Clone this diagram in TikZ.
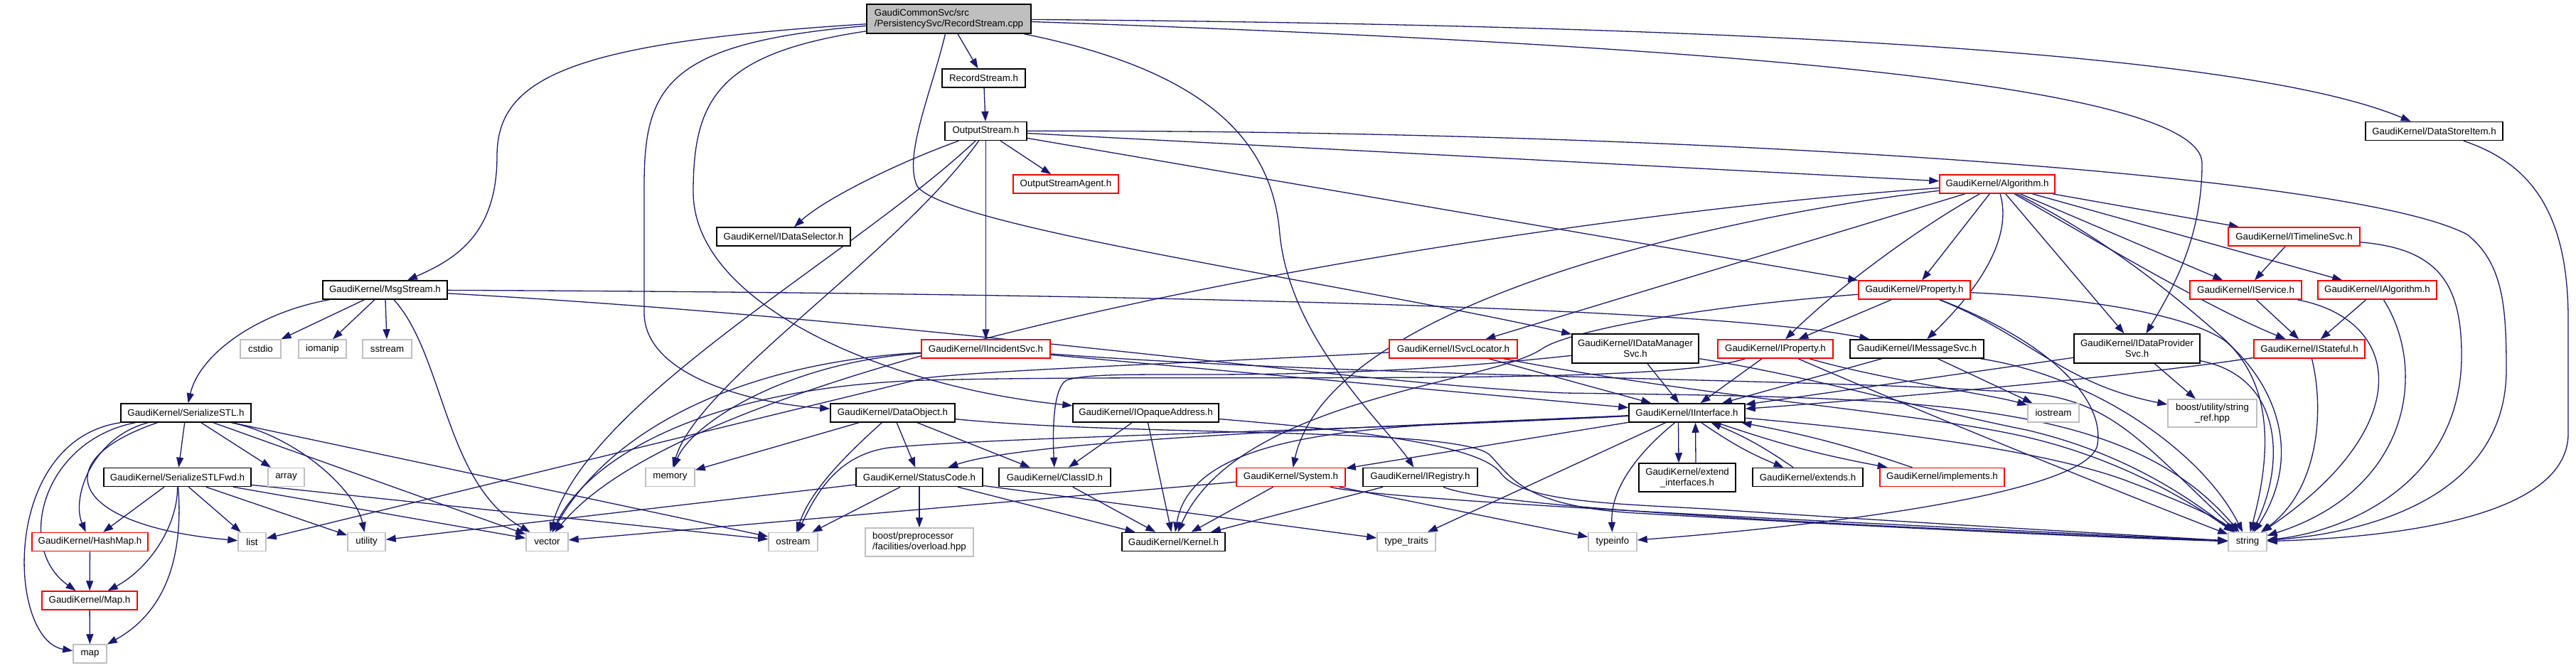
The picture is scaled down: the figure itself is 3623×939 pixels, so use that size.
\documentclass[tikz,border=0pt]{standalone}
\usepackage{fontspec}
\setmainfont{Liberation Sans}
\usetikzlibrary{arrows.meta}
\definecolor{edgeblue}{RGB}{25,25,112}
\definecolor{lgray}{RGB}{191,191,191}
\pgfdeclarelayer{bg}
\pgfsetlayers{bg,main}
\tikzset{
  nbox/.style={rectangle, inner sep=0pt, line width=0.75pt, fill=white, text=black,
    font=\fontsize{6.65}{7.5}\selectfont, align=center},
  blkbox/.style={nbox, draw=black},
  redbox/.style={nbox, draw=red},
  grybox/.style={nbox, draw=lgray},
  rootbox/.style={nbox, draw=black, fill=lgray},
  conn/.style={draw=edgeblue, line width=0.65pt, -{Triangle[length=7pt,width=5pt]}},
}
\newcommand{\mknode}[7]{\node[#6, minimum width={#4*0.5pt}, minimum height={#5*0.5pt}] (#1) at (#2,#3) {#7};}
\begin{document}
\begin{tikzpicture}[x=0.5pt,y=-0.5pt]
\begin{pgfonlayer}{bg}
\fill[white] (0,0) rectangle (3623,939);
\end{pgfonlayer}
\useasboundingbox (0,0) rectangle (3623,939);
% nodes
\mknode{root}{1334.5}{26.5}{231}{41}{rootbox,align=left}{GaudiCommonSvc/src\\/PersistencySvc/RecordStream.cpp}
\mknode{RecordStream}{1383.5}{110}{117}{26}{blkbox}{RecordStream.h}
\mknode{OutputStream}{1386.5}{184.5}{115}{26}{blkbox}{OutputStream.h}
\mknode{DataStoreItem}{3423.5}{184.5}{193}{26}{blkbox}{GaudiKernel/DataStoreItem.h}
\mknode{OSAgent}{1499}{259}{148}{26}{redbox}{OutputStreamAgent.h}
\mknode{Algorithm}{2809}{259}{162}{26}{redbox}{GaudiKernel/Algorithm.h}
\mknode{IDataSelector}{1102}{333}{188}{26}{blkbox}{GaudiKernel/IDataSelector.h}
\mknode{ITimelineSvc}{3226.5}{333}{185}{26}{redbox}{GaudiKernel/ITimelineSvc.h}
\mknode{MsgStream}{541.5}{408}{175}{26}{blkbox}{GaudiKernel/MsgStream.h}
\mknode{Property}{2692.5}{408}{157}{26}{redbox}{GaudiKernel/Property.h}
\mknode{IService}{3158.5}{408}{157}{26}{redbox}{GaudiKernel/IService.h}
\mknode{IAlgorithm}{3343.5}{408}{167}{26}{redbox}{GaudiKernel/IAlgorithm.h}
\mknode{cstdio}{366.5}{491}{57}{26}{grybox}{cstdio}
\mknode{iomanip}{453.5}{491}{67}{26}{grybox}{iomanip}
\mknode{sstream}{544.5}{491}{69}{26}{grybox}{sstream}
\mknode{IIncidentSvc}{1386.5}{491}{181}{26}{redbox}{GaudiKernel/IIncidentSvc.h}
\mknode{ISvcLocator}{2044}{491}{180}{26}{redbox}{GaudiKernel/ISvcLocator.h}
\mknode{IDataManagerSvc}{2300}{490.5}{178}{41}{blkbox}{GaudiKernel/IDataManager\\Svc.h}
\mknode{IProperty}{2497}{491}{162}{26}{redbox}{GaudiKernel/IProperty.h}
\mknode{IMessageSvc}{2696}{491}{188}{26}{blkbox}{GaudiKernel/IMessageSvc.h}
\mknode{IDataProviderSvc}{3005.5}{490.5}{177}{41}{blkbox}{GaudiKernel/IDataProvider\\Svc.h}
\mknode{IStateful}{3248}{491}{156}{26}{redbox}{GaudiKernel/IStateful.h}
\mknode{SerializeSTL}{261.5}{581}{183}{26}{blkbox}{GaudiKernel/SerializeSTL.h}
\mknode{DataObject}{1255.5}{581}{175}{26}{blkbox}{GaudiKernel/DataObject.h}
\mknode{IOpaqueAddress}{1611.5}{581}{205}{26}{blkbox}{GaudiKernel/IOpaqueAddress.h}
\mknode{IInterface}{2372.5}{581}{163}{26}{blkbox}{GaudiKernel/IInterface.h}
\mknode{iostream}{2888}{581}{72}{26}{grybox}{iostream}
\mknode{stringref}{3111.5}{581.5}{125}{39}{grybox}{boost/utility/string\\\_ref.hpp}
\mknode{SerializeSTLFwd}{249.5}{671.5}{207}{26}{blkbox}{GaudiKernel/SerializeSTLFwd.h}
\mknode{array}{402.5}{671.5}{51}{26}{grybox}{array}
\mknode{memory}{942.5}{671.5}{69}{26}{grybox}{memory}
\mknode{StatusCode}{1293}{671.5}{178}{26}{blkbox}{GaudiKernel/StatusCode.h}
\mknode{ClassID}{1483.5}{671.5}{157}{26}{blkbox}{GaudiKernel/ClassID.h}
\mknode{System}{1815.5}{671.5}{153}{26}{redbox}{GaudiKernel/System.h}
\mknode{IRegistry}{1997.5}{671.5}{161}{26}{blkbox}{GaudiKernel/IRegistry.h}
\mknode{extint}{2373}{672}{136}{40}{blkbox}{GaudiKernel/extend\\\_interfaces.h}
\mknode{extends}{2542.5}{671.5}{155}{26}{blkbox}{GaudiKernel/extends.h}
\mknode{implements}{2731.5}{671.5}{175}{26}{redbox}{GaudiKernel/implements.h}
\mknode{HashMap}{126.5}{762.5}{163}{26}{redbox}{GaudiKernel/HashMap.h}
\mknode{list}{354.5}{762.5}{39}{26}{grybox}{list}
\mknode{utility}{515.5}{762.5}{53}{26}{grybox}{utility}
\mknode{vector}{769.5}{762.5}{59}{26}{grybox}{vector}
\mknode{ostream}{1115.5}{762.5}{69}{26}{grybox}{ostream}
\mknode{boostpp}{1293}{763}{152}{40}{grybox,align=left}{boost/preprocessor\\/facilities/overload.hpp}
\mknode{Kernel}{1650.5}{762.5}{145}{26}{blkbox}{GaudiKernel/Kernel.h}
\mknode{typetraits}{1978}{762.5}{82}{26}{grybox}{type\_traits}
\mknode{typeinfo}{2268}{762.5}{68}{26}{grybox}{typeinfo}
\mknode{string}{3161}{762.5}{54}{26}{grybox}{string}
\mknode{nMap}{126}{845}{134}{26}{redbox}{GaudiKernel/Map.h}
\mknode{nmap}{126.5}{920}{47}{26}{grybox}{map}
% edges
\begin{pgfonlayer}{bg}
% root
\draw[conn] (root) .. controls (800,60) and (699,110) .. (699,220) .. controls (699,330) and (640,365) .. (MsgStream);
\draw[conn] (root) .. controls (940,60) and (906,120) .. (906,260) -- (906,440) .. controls (906,530) and (1060,568) .. (DataObject);
\draw[conn] (root) .. controls (1010,75) and (975,140) .. (975,270) .. controls (975,430) and (1250,545) .. (IOpaqueAddress);
\draw[conn] (root) .. controls (1310,130) and (1270,220) .. (1290,262) .. controls (1330,320) and (1900,400) .. (IDataManagerSvc);
\draw[conn] (root) -- (RecordStream);
\draw[conn] (root) .. controls (2400,35) and (3150,70) .. (DataStoreItem);
\draw[conn] (root) .. controls (2300,60) and (3097,110) .. (3097,230) .. controls (3097,330) and (3060,400) .. (IDataProviderSvc);
\draw[conn] (root) .. controls (1700,100) and (1790,200) .. (1800,330) .. controls (1815,480) and (1950,600) .. (IRegistry);
% RecordStream / OutputStream
\draw[conn] (RecordStream) -- (OutputStream);
\draw[conn] (OutputStream) .. controls (1260,230) and (1160,280) .. (IDataSelector);
\draw[conn] (OutputStream) .. controls (1200,360) and (830,560) .. (vector);
\draw[conn] (OutputStream) .. controls (1260,360) and (980,540) .. (memory);
\draw[conn] (OutputStream) -- (IIncidentSvc);
\draw[conn] (OutputStream) -- (OSAgent);
\draw[conn] (OutputStream) -- (Algorithm);
\draw[conn] (OutputStream) .. controls (2300,182) and (3300,240) .. (3470,330) .. controls (3520,370) and (3525,430) .. (3525,520) .. controls (3525,690) and (3350,748) .. (string);
\draw[conn] (OutputStream) -- (Property);
% DataStoreItem
\draw[conn] (DataStoreItem) .. controls (3560,230) and (3612,300) .. (3612,450) -- (3612,610) .. controls (3612,720) and (3400,755) .. (string);
% Algorithm
\draw[conn] (Algorithm) -- (ITimelineSvc);
\draw[conn] (Algorithm) -- (IService);
\draw[conn] (Algorithm) -- (IAlgorithm);
\draw[conn] (Algorithm) .. controls (2950,340) and (3100,430) .. (IStateful);
\draw[conn] (Algorithm) -- (IDataProviderSvc);
\draw[conn] (Algorithm) .. controls (2830,330) and (2790,400) .. (IMessageSvc);
\draw[conn] (Algorithm) .. controls (2700,320) and (2590,400) .. (IProperty);
\draw[conn] (Algorithm) -- (Property);
\draw[conn] (Algorithm) -- (ISvcLocator);
\draw[conn] (Algorithm) .. controls (2450,300) and (1870,420) .. (System);
\draw[conn] (Algorithm) .. controls (2200,300) and (1000,480) .. (vector);
\draw[conn] (Algorithm) .. controls (2950,330) and (3040,400) .. (3120,470) .. controls (3180,520) and (3205,600) .. (string);
% ITimelineSvc, IService, IAlgorithm, IStateful
\draw[conn] (ITimelineSvc) -- (IService);
\draw[conn] (ITimelineSvc) .. controls (3430,350) and (3462,400) .. (3462,500) .. controls (3462,680) and (3300,748) .. (string);
\draw[conn] (IService) -- (IStateful);
\draw[conn] (IService) .. controls (3380,450) and (3400,600) .. (string);
\draw[conn] (IAlgorithm) -- (IStateful);
\draw[conn] (IAlgorithm) .. controls (3415,520) and (3390,690) .. (string);
\draw[conn] (IStateful) .. controls (3000,530) and (2600,565) .. (IInterface);
\draw[conn] (IStateful) .. controls (3270,580) and (3260,690) .. (string);
% IDataProviderSvc
\draw[conn] (IDataProviderSvc) -- (IInterface);
\draw[conn] (IDataProviderSvc) -- (stringref);
\draw[conn] (IDataProviderSvc) .. controls (3210,530) and (3215,650) .. (string);
% Property
\draw[conn] (Property) -- (IProperty);
\draw[conn] (Property) .. controls (2850,470) and (2900,540) .. (stringref);
\draw[conn] (Property) .. controls (2950,420) and (3080,445) .. (3130,480) .. controls (3200,540) and (3240,640) .. (string);
\draw[conn] (Property) .. controls (2880,480) and (2960,560) .. (2950,625) .. controls (2940,700) and (2500,745) .. (typeinfo);
\draw[conn] (Property) .. controls (2350,435) and (2200,470) .. (2170,490) .. controls (2100,540) and (1740,560) .. (Kernel);
% IProperty
\draw[conn] (IProperty) -- (IInterface);
\draw[conn] (IProperty) .. controls (2330,545) and (1700,525) .. (1300,535) .. controls (1000,545) and (830,640) .. (vector);
\draw[conn] (IProperty) .. controls (2650,535) and (2800,555) .. (iostream);
\draw[conn] (IProperty) .. controls (2750,600) and (3000,700) .. (string);
% IMessageSvc
\draw[conn] (IMessageSvc) -- (IInterface);
\draw[conn] (IMessageSvc) -- (iostream);
\draw[conn] (IMessageSvc) .. controls (2950,530) and (3100,640) .. (string);
% ISvcLocator
\draw[conn] (ISvcLocator) -- (IInterface);
\draw[conn] (ISvcLocator) .. controls (1700,510) and (1400,520) .. (1300,532) -- (list);
\draw[conn] (ISvcLocator) .. controls (2400,560) and (2700,580) .. (2850,615) .. controls (3000,650) and (3100,720) .. (string);
% IDataManagerSvc
\draw[conn] (IDataManagerSvc) -- (IInterface);
\draw[conn] (IDataManagerSvc) .. controls (1800,545) and (1560,515) .. (1500,535) .. controls (1482,545) and (1480,600) .. (ClassID);
\draw[conn] (IDataManagerSvc) .. controls (2550,530) and (2700,575) .. (2850,605) .. controls (3000,640) and (3090,710) .. (string);
% IIncidentSvc
\draw[conn] (IIncidentSvc) -- (IInterface);
\draw[conn] (IIncidentSvc) .. controls (1100,510) and (970,600) .. (memory);
\draw[conn] (IIncidentSvc) .. controls (1050,510) and (860,600) .. (vector);
\draw[conn] (IIncidentSvc) .. controls (1900,530) and (2600,535) .. (2800,550) .. controls (2960,552) and (2990,600) .. (string);
% MsgStream
\draw[conn] (MsgStream) .. controls (360,440) and (280,500) .. (SerializeSTL);
\draw[conn] (MsgStream) -- (cstdio);
\draw[conn] (MsgStream) -- (iomanip);
\draw[conn] (MsgStream) -- (sstream);
\draw[conn] (MsgStream) .. controls (625,500) and (625,680) .. (vector);
\draw[conn] (MsgStream) .. controls (1500,412) and (2400,430) .. (IMessageSvc);
\draw[conn] (MsgStream) .. controls (1300,450) and (1900,540) .. (2200,553) .. controls (2700,560) and (2990,560) .. (string);
% SerializeSTL
\draw[conn] (SerializeSTL) .. controls (130,615) and (100,700) .. (HashMap);
\draw[conn] (SerializeSTL) .. controls (60,620) and (20,770) .. (nMap);
\draw[conn] (SerializeSTL) .. controls (0,620) and (10,900) .. (nmap);
\draw[conn] (SerializeSTL) -- (SerializeSTLFwd);
\draw[conn] (SerializeSTL) -- (array);
\draw[conn] (SerializeSTL) .. controls (60,650) and (100,740) .. (list);
\draw[conn] (SerializeSTL) .. controls (420,615) and (500,690) .. (utility);
\draw[conn] (SerializeSTL) -- (vector);
\draw[conn] (SerializeSTL) -- (ostream);
% SerializeSTLFwd
\draw[conn] (SerializeSTLFwd) -- (HashMap);
\draw[conn] (SerializeSTLFwd) .. controls (250,740) and (210,800) .. (nMap);
\draw[conn] (SerializeSTLFwd) .. controls (258,780) and (235,860) .. (nmap);
\draw[conn] (SerializeSTLFwd) -- (list);
\draw[conn] (SerializeSTLFwd) -- (utility);
\draw[conn] (SerializeSTLFwd) -- (vector);
\draw[conn] (SerializeSTLFwd) -- (ostream);
\draw[conn] (HashMap) -- (nMap);
\draw[conn] (nMap) -- (nmap);
% DataObject
\draw[conn] (DataObject) -- (memory);
\draw[conn] (DataObject) .. controls (1190,640) and (1140,690) .. (ostream);
\draw[conn] (DataObject) -- (StatusCode);
\draw[conn] (DataObject) -- (ClassID);
\draw[conn] (DataObject) .. controls (1600,615) and (2050,600) .. (2095,640) .. controls (2125,670) and (2140,712) .. (2300,722) .. controls (2700,745) and (2950,756) .. (string);
% IOpaqueAddress
\draw[conn] (IOpaqueAddress) -- (ClassID);
\draw[conn] (IOpaqueAddress) -- (Kernel);
\draw[conn] (IOpaqueAddress) .. controls (1900,605) and (2080,625) .. (2110,665) .. controls (2140,705) and (2250,708) .. (2400,716) .. controls (2700,736) and (2950,750) .. (string);
% StatusCode, ClassID, System, IRegistry
\draw[conn] (StatusCode) -- (ostream);
\draw[conn] (StatusCode) -- (boostpp);
\draw[conn] (StatusCode) -- (Kernel);
\draw[conn] (StatusCode) -- (typetraits);
\draw[conn] (StatusCode) -- (utility);
\draw[conn] (ClassID) -- (Kernel);
\draw[conn] (System) -- (Kernel);
\draw[conn] (System) -- (vector);
\draw[conn] (System) .. controls (1950,705) and (2600,735) .. (string);
\draw[conn] (System) -- (typeinfo);
\draw[conn] (IRegistry) -- (Kernel);
\draw[conn] (IRegistry) .. controls (2100,715) and (2600,740) .. (string);
% IInterface
\draw[conn] (IInterface) .. controls (2000,600) and (1680,590) .. (Kernel);
\draw[conn] (IInterface) .. controls (1950,600) and (1450,618) .. (StatusCode);
\draw[conn] (IInterface) -- (System);
\draw[conn] (IInterface) .. controls (1900,606) and (1400,615) .. (1250,630) .. controls (1180,640) and (1150,690) .. (ostream);
\draw[conn] (IInterface) -- (typetraits);
\draw[conn] (IInterface) .. controls (2300,640) and (2265,690) .. (typeinfo);
\draw[conn] ([xshift=-6pt]IInterface.south) -- ([xshift=-6pt]extint.north);
\draw[conn] ([xshift=6pt]extint.north) -- ([xshift=6pt]IInterface.south);
\draw[conn] (IInterface) to[bend right=6] (extends);
\draw[conn] (extends) to[bend right=6] (IInterface);
\draw[conn] (IInterface) to[bend right=4] (implements);
\draw[conn] (implements) to[bend right=4] (IInterface);
\draw[conn] (IInterface) .. controls (2700,610) and (2900,640) .. (3000,680) .. controls (3080,710) and (3120,730) .. (string);
\end{pgfonlayer}
\end{tikzpicture}
\end{document}
